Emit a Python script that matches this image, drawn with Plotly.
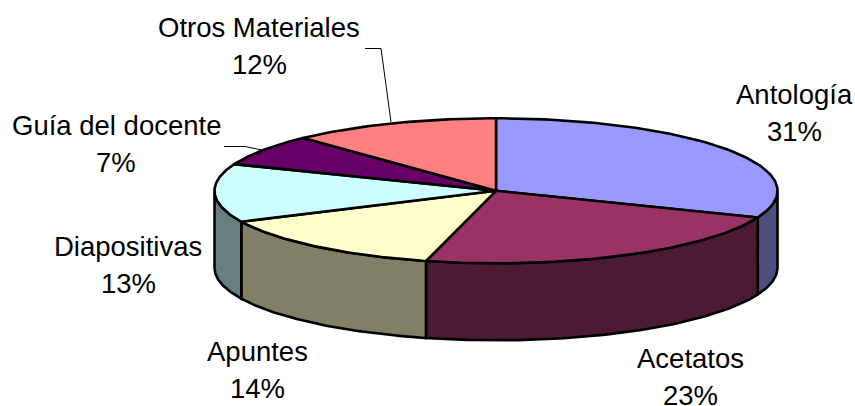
import numpy as np
import plotly.graph_objects as go

categories = ["Antología", "Acetatos", "Apuntes", "Diapositivas", "Guía del docente", "Otros Materiales"]
values = [31, 23, 14, 13, 7, 12]
top_colors = ["#9999ff", "#993366", "#ffffcc", "#ccffff", "#660066", "#ff8080"]
side_colors = ["#4d4d80", "#4d1a33", "#808066", "#668080", "#330033", "#804040"]
label_x = [794, 690, 257, 128, 116, 259]
label_y = [113, 377, 370, 265, 144, 46]

CX, CY, RX, RY, DEPTH = 496.0, 190.8, 281.5, 72.5, 77.0
W, H = 855, 406
EDGE = "#000000"
LINE_GAP = 18.5


def rim(a0, a1, n=80):
    t = np.radians(np.linspace(a0, a1, n))
    return CX + RX * np.sin(t), CY - RY * np.cos(t)


fig = go.Figure()
edges = np.concatenate([[0], np.cumsum(values)]) * 3.6

# side walls: only the front half of the rim (90 deg to 270 deg) is visible
for i in range(len(values)):
    a0, a1 = max(edges[i], 90), min(edges[i + 1], 270)
    if a1 <= a0:
        continue
    x, y = rim(a0, a1)
    px = np.concatenate([x, x[::-1], x[:1]])
    py = np.concatenate([y, y[::-1] + DEPTH, y[:1]])
    fig.add_trace(go.Scatter(x=px, y=py, mode="lines", fill="toself", fillcolor=side_colors[i],
                             line=dict(color=EDGE, width=2.6), hoverinfo="skip"))

# top face
for i in range(len(values)):
    x, y = rim(edges[i], edges[i + 1])
    px = np.concatenate([[CX], x, [CX]])
    py = np.concatenate([[CY], y, [CY]])
    fig.add_trace(go.Scatter(x=px, y=py, mode="lines", fill="toself", fillcolor=top_colors[i],
                             line=dict(color=EDGE, width=2.6), hoverinfo="skip"))

# leader lines
leader_x = [[365, 381, 391], [224, 245, 262]]
leader_y = [[48.5, 48.5, 122], [146.5, 146.5, 150]]
for lx, ly in zip(leader_x, leader_y):
    fig.add_trace(go.Scatter(x=lx, y=ly, mode="lines", line=dict(color=EDGE, width=1), hoverinfo="skip"))

label_font = dict(family="Liberation Sans, Arial", size=27.5, color="black")
for name, v, lx, ly in zip(categories, values, label_x, label_y):
    fig.add_annotation(x=lx, y=ly - LINE_GAP, text=name, showarrow=False, xanchor="center", yanchor="middle",
                       font=label_font)
    fig.add_annotation(x=lx, y=ly + LINE_GAP, text=f"{v}%", showarrow=False, xanchor="center", yanchor="middle",
                       font=label_font)

fig.update_layout(
    width=W, height=H, margin=dict(l=0, r=0, t=0, b=0), showlegend=False,
    paper_bgcolor="white", plot_bgcolor="white",
    xaxis=dict(range=[0, W], visible=False, fixedrange=True),
    yaxis=dict(range=[H, 0], visible=False, fixedrange=True),
)
fig.write_html("out.html", config={"displayModeBar": False}, post_script="document.body.style.margin='0';")
